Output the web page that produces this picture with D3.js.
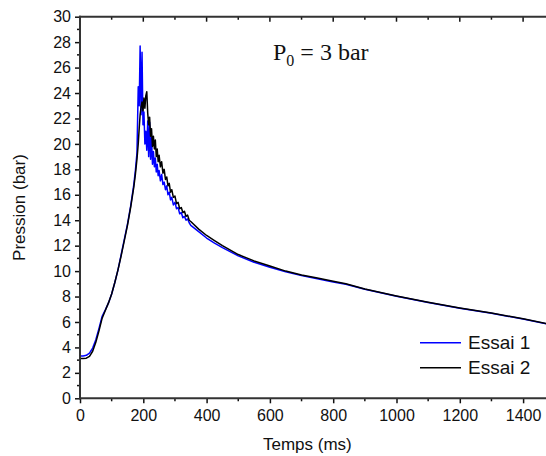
<!DOCTYPE html>
<html><head><meta charset="utf-8">
<script src="https://cdn.jsdelivr.net/npm/d3@7"></script>
<style>html,body{margin:0;padding:0;background:#fff;overflow:hidden}</style>
</head><body>
<svg id="chart" width="546" height="456"></svg>
<script>
const timeMs = [0,10,20,30,40,50,60,70,80,90,100,110,120,130,140,150,160,170,175,180,184,187,190,193,196,199,202,205,208,211,214,217,220,223,226,229,232,235,238,241,244,247,250,254,258,262,266,270,274,278,282,286,290,295,300,305,310,315,320,325,330,335,340,345,350,375,400,425,450,500,550,600,650,700,750,800,840,900,1000,1100,1200,1300,1400,1480];
const essai1 = [3.33,3.33,3.38,3.55,3.95,4.6,5.5,6.45,6.95,7.5,8.2,9.1,10.1,11.3,12.5,13.7,15.1,16.8,17.9,19.3,24.5,23.0,27.7,22.3,27.2,21.5,22.5,20.0,21.0,19.5,21.8,19.0,21.7,18.8,20.5,18.4,19.4,18.2,18.9,17.8,18.4,17.5,17.9,17.1,17.6,16.8,17.0,16.4,16.7,16.0,16.2,15.6,15.8,15.2,15.4,14.9,15.0,14.5,14.6,14.2,14.3,14.0,14.1,13.8,13.6,13.1,12.6,12.2,11.85,11.2,10.7,10.3,9.95,9.65,9.4,9.15,8.97,8.58,8.03,7.53,7.08,6.68,6.23,5.83];
const essai2 = [3.12,3.12,3.15,3.3,3.7,4.4,5.3,6.3,6.9,7.5,8.2,9.1,10.1,11.2,12.4,13.6,15.0,16.6,17.6,18.8,20.0,21.2,22.3,22.9,23.3,22.6,23.6,22.8,23.8,24.1,22.4,21.5,22.1,20.6,21.2,19.8,20.6,19.6,20.3,19.0,19.6,18.6,19.1,18.2,18.6,17.7,18.0,17.2,17.4,16.7,16.9,16.2,16.4,15.8,15.9,15.3,15.4,14.9,15.0,14.6,14.7,14.3,14.4,14.0,13.9,13.3,12.8,12.4,12.0,11.3,10.8,10.4,10.0,9.7,9.45,9.2,9.0,8.6,8.05,7.55,7.1,6.7,6.25,5.85];
const seriesNames = ["Essai 1","Essai 2"];
const seriesColors = ["#0000ff","#000000"];
const xTicks = [0,200,400,600,800,1000,1200,1400];
const yTicks = [0,2,4,6,8,10,12,14,16,18,20,22,24,26,28,30];

const svg = d3.select("#chart");
const L = 80, T = 16.7, B = 398.3, R = 80 + 1500*0.3165;
const x = d3.scaleLinear().domain([0,1500]).range([L,R]);
const y = d3.scaleLinear().domain([0,30]).range([B,T]);
const axisColor = "#333";
const tickFont = "Liberation Sans, Arial, sans-serif";

svg.append("clipPath").attr("id","clip").append("rect")
  .attr("x",L).attr("y",T).attr("width",R-L).attr("height",B-T);

const series = [essai1, essai2];
series.forEach((vals,i)=>{
  const line = d3.line().x((d,j)=>x(timeMs[j])).y(d=>y(d));
  svg.append("path").datum(vals).attr("d",line)
    .attr("fill","none").attr("stroke",seriesColors[i]).attr("stroke-width",1.5)
    .attr("stroke-linejoin","round").attr("clip-path","url(#clip)");
});

const yAxis = d3.axisLeft(y).tickValues(yTicks).tickSize(5).tickPadding(4).tickFormat(d3.format("d"));
const gy = svg.append("g").attr("transform",`translate(${L},0)`).call(yAxis);
gy.select(".domain").remove();
gy.selectAll(".tick line").attr("stroke","#111").attr("stroke-width",1.5);
gy.selectAll("text").attr("font-family",tickFont).attr("font-size",16).attr("fill","#111");
const yMinor = d3.range(1,30,2);
svg.append("g").selectAll("line").data(yMinor).join("line")
  .attr("x1",L-3).attr("x2",L).attr("y1",d=>y(d)).attr("y2",d=>y(d))
  .attr("stroke","#111").attr("stroke-width",1.5);

const xAxis = d3.axisBottom(x).tickValues(xTicks).tickSize(5).tickPadding(6).tickFormat(d3.format("d"));
const gx = svg.append("g").attr("transform",`translate(0,${B})`).call(xAxis);
gx.select(".domain").remove();
gx.selectAll(".tick line").attr("stroke","#111").attr("stroke-width",1.5);
gx.selectAll("text").attr("font-family",tickFont).attr("font-size",16).attr("fill","#111");
const xMinor = d3.range(100,1500,200);
svg.append("g").selectAll("line").data(xMinor).join("line")
  .attr("x1",d=>x(d)).attr("x2",d=>x(d)).attr("y1",B).attr("y2",B+3)
  .attr("stroke","#111").attr("stroke-width",1.5);

svg.append("g").selectAll("line").data(xTicks).join("line")
  .attr("x1",d=>x(d)).attr("x2",d=>x(d)).attr("y1",T).attr("y2",T+5)
  .attr("stroke","#111").attr("stroke-width",1.5);
svg.append("g").selectAll("line").data(xMinor).join("line")
  .attr("x1",d=>x(d)).attr("x2",d=>x(d)).attr("y1",T).attr("y2",T+3)
  .attr("stroke","#111").attr("stroke-width",1.5);

svg.append("line").attr("x1",L).attr("x2",L).attr("y1",T-1).attr("y2",B+1).attr("stroke",axisColor).attr("stroke-width",2);
svg.append("line").attr("x1",L-1).attr("x2",R).attr("y1",B).attr("y2",B).attr("stroke",axisColor).attr("stroke-width",2);
svg.append("line").attr("x1",L-1).attr("x2",R).attr("y1",T).attr("y2",T).attr("stroke",axisColor).attr("stroke-width",2);

svg.append("text").attr("x",(L+R)/2 - 10).attr("y",450).attr("text-anchor","middle")
  .attr("font-family",tickFont).attr("font-size",17).attr("fill","#111").text("Temps (ms)");
svg.append("text").attr("transform",`translate(25,${(T+B)/2}) rotate(-90)`).attr("text-anchor","middle")
  .attr("font-family",tickFont).attr("font-size",17).attr("fill","#111").text("Pression (bar)");

const ann = svg.append("text").attr("x",273).attr("y",60)
  .attr("font-family","Liberation Serif, Times New Roman, serif").attr("font-size",24).attr("fill","#111");
ann.append("tspan").text("P");
ann.append("tspan").attr("dy",6).attr("font-size",16).text("0");
ann.append("tspan").attr("dy",-6).text(" = 3 bar");

seriesNames.forEach((n,i)=>{
  const ly = 342.7 + i*25;
  svg.append("line").attr("x1",420).attr("x2",461).attr("y1",ly).attr("y2",ly)
    .attr("stroke",seriesColors[i]).attr("stroke-width",1.5);
  svg.append("text").attr("x",468).attr("y",ly+6.5).attr("font-family",tickFont)
    .attr("font-size",19).attr("fill","#111").text(n);
});
</script>
</body></html>
